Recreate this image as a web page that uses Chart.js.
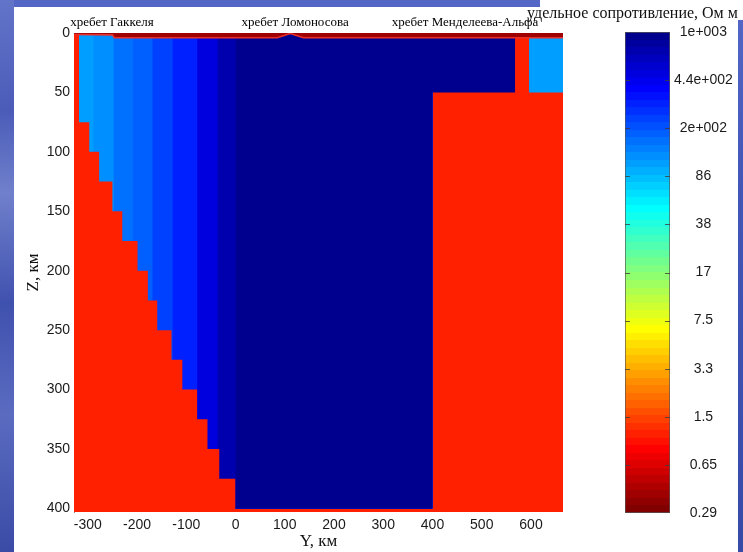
<!DOCTYPE html>
<html>
<head>
<meta charset="utf-8">
<script src="https://cdn.jsdelivr.net/npm/chart.js@4.4.0/dist/chart.umd.min.js"></script>
<style>
  html, body { margin: 0; padding: 0; }
  body { width: 743px; height: 552px; overflow: hidden; position: relative;
         background: linear-gradient(180deg, #5567c6 0%, #4356b8 35%, #384aa8 100%); }
  #leftStrip { position: absolute; left: 0; top: 0; width: 14px; height: 552px;
         background: linear-gradient(180deg, #6274c8 0%, #4a5cb8 20%, #7080cc 35%, #3f51ae 55%, #5a6bc0 75%, #3a4ba6 100%); }
  #panel { position: absolute; left: 14px; top: 7px; width: 724px; height: 545px; background: #fff; }
  #patch { position: absolute; left: 540px; top: 0; width: 203px; height: 20px; background: #fff; }
  #mainBox { position: absolute; left: 0; top: 0; width: 600px; height: 552px; }
  #cbarBox { position: absolute; left: 523px; top: 0; width: 220px; height: 552px; }
  #cbarTitle { position: absolute; left: 527px; top: 5px; font: 16px "Liberation Serif", "Times New Roman", serif;
         color: #111; white-space: nowrap; line-height: 16px; }
</style>
</head>
<body>
<div id="leftStrip"></div>
<div id="panel"></div>
<div id="patch"></div>
<div id="mainBox"><canvas id="main" width="600" height="552"></canvas></div>
<div id="cbarBox"><canvas id="cbar" width="220" height="552"></canvas></div>
<div id="cbarTitle">удельное сопротивление, Ом м</div>
<script>
// ---------------- data ----------------
const rhoMin = 0.29, rhoMax = 1000;           // colour scale limits, Ohm m
const xLimits = [-328, 665];                  // Y, km
const zLimits = [0, 403];                     // Z, km
const xTickValues = [-300, -200, -100, 0, 100, 200, 300, 400, 500, 600];
const zTickValues = [0, 50, 100, 150, 200, 250, 300, 350, 400];
const cbarTickLabels = ['0.29', '0.65', '1.5', '3.3', '7.5', '17', '38', '86', '2e+002', '4.4e+002', '1e+003'];

const mantleRho = 1.1;                        // red background / basement
// columns on the Gakkel side (left edges in km, resistivity); each continues under the next one
const columnEdges = [-318, -289, -248, -209, -169, -128, -78, -37, 0];
const columnRho = [108, 122, 158, 180, 231, 299, 480, 728];
const columnBottom = 400;
// Lomonosov block
const blockX = [0, 400, 568];
const blockZ = [400, 50, 50];
const blockRho = 1000;
// eastern upper box
const eastBoxX = [596, 665];
const eastBoxZ = 50;
const eastBoxRho = 108;
// staircase of conductive basement: x where a step starts, top depth of red
const stepX = [-328, -318, -297, -277, -250, -230, -199, -178, -159, -130, -108, -78, -57, -33, 0];
const stepZ = [0, 75, 100, 125, 150, 175, 200, 225, 250, 275, 300, 325, 350, 375, 375];
// sea water layer bottom
const seaX = [-328, -250, -246, 85, 111, 138, 665];
const seaZ = [1.3, 1.6, 4, 4, 0.4, 4, 4];
const seaRho = 0.38;
// ridge captions
const ridgeNames = ['хребет Гаккеля', 'хребет Ломоносова', 'хребет Менделеева-Альфа'];
const ridgeLabelX = [-251, 121, 466];

// ---------------- colour map (MATLAB jet(64)) ----------------
function jet64() {
  const m = 64, n = 16, u = [];
  for (let k = 1; k <= n; k++) u.push(k / n);
  for (let k = 1; k < n; k++) u.push(1);
  for (let k = n; k >= 1; k--) u.push(k / n);
  const val = j => (j >= 1 && j <= u.length) ? u[j - 1] : 0;
  const out = [];
  for (let i = 1; i <= m; i++) out.push([val(i - 24), val(i - 8), val(i + 8)].map(c => Math.round(c * 255)));
  return out;
}
const JET = jet64(); // index 0 = dark blue (top of colorbar = 1e+003)
function colorFor(rho) {
  const v = (Math.log10(rho) - Math.log10(rhoMin)) / (Math.log10(rhoMax) - Math.log10(rhoMin));
  const idx = Math.max(0, Math.min(63, Math.floor((1 - v) * 64)));
  const c = JET[idx];
  return `rgb(${c[0]},${c[1]},${c[2]})`;
}

// ---------------- main section ----------------
function region(points, rho, fillTo, order, extra) {
  return Object.assign({
    data: points, backgroundColor: colorFor(rho), borderColor: 'rgba(0,0,0,0)', borderWidth: 0,
    pointRadius: 0, pointHoverRadius: 0, fill: { value: fillTo }, stepped: true, tension: 0, order
  }, extra || {});
}
const pts = (xs, zs) => xs.map((x, i) => ({ x, y: Array.isArray(zs) ? zs[i] : zs }));

const datasets = [
  region(pts(xLimits, zLimits[1]), mantleRho, zLimits[0], 30),
  // each column is laid under the following ones (painter's order) so no seams appear
  ...columnRho.map((r, i) => region(pts([columnEdges[i], blockX[1]], columnBottom), r, zLimits[0], 20 - i)),
  region(pts(blockX, blockZ), blockRho, zLimits[0], 9),
  region(pts(eastBoxX, eastBoxZ), eastBoxRho, zLimits[0], 9),
  region(pts(stepX, stepZ), mantleRho, zLimits[1], 5),
  region(pts(seaX, seaZ), seaRho, zLimits[0], 1,
    { stepped: false, borderWidth: 1.6, borderColor: 'rgb(232,48,40)' })
];

const ridgeLabelPlugin = {
  id: 'ridgeLabels',
  afterDraw(chart) {
    const { ctx, chartArea, scales: { x } } = chart;
    ctx.save();
    ctx.font = '13px "Liberation Serif", "Times New Roman", serif';
    ctx.fillStyle = '#000';
    ctx.textAlign = 'center';
    ctx.textBaseline = 'alphabetic';
    ridgeNames.forEach((name, i) => ctx.fillText(name, x.getPixelForValue(ridgeLabelX[i]), chartArea.top - 7));
    ctx.restore();
  }
};

new Chart(document.getElementById('main'), {
  type: 'line',
  data: { datasets },
  plugins: [ridgeLabelPlugin],
  options: {
    responsive: false, animation: false, events: [],
    layout: { padding: { left: 20, top: 33, right: 37, bottom: 0 } },
    plugins: { legend: { display: false }, tooltip: { enabled: false } },
    scales: {
      x: {
        type: 'linear', min: xLimits[0], max: xLimits[1],
        afterBuildTicks: s => { s.ticks = xTickValues.map(v => ({ value: v })); },
        afterFit: s => { s.height = 40; },
        grid: { display: false, drawTicks: false }, border: { display: false },
        ticks: { padding: 5, autoSkip: false, maxRotation: 0, color: '#1a1a1a',
                 font: { family: 'Liberation Sans', size: 14 }, callback: v => String(v) },
        title: { display: true, text: 'Y, км', color: '#111', padding: { top: 0, bottom: 0 },
                 font: { family: 'Liberation Serif', size: 17 } }
      },
      y: {
        type: 'linear', reverse: true, min: zLimits[0], max: zLimits[1],
        afterBuildTicks: s => { s.ticks = zTickValues.map(v => ({ value: v })); },
        afterFit: s => { s.width = 54; },
        grid: { display: false, drawTicks: false }, border: { display: true, color: '#888', width: 1 },
        ticks: { padding: 4, autoSkip: false, color: '#1a1a1a',
                 font: { family: 'Liberation Sans', size: 14 }, callback: v => String(v) },
        title: { display: true, text: 'Z, км', color: '#111', padding: { top: 3, bottom: 0 },
                 font: { family: 'Liberation Serif', size: 17 } }
      }
    }
  }
});

// ---------------- colour bar ----------------
const cbarTickPlugin = {
  id: 'cbarTicks',
  afterDatasetsDraw(chart) {
    const { ctx, chartArea: a, scales: { y } } = chart;
    ctx.save();
    ctx.strokeStyle = 'rgba(60,60,60,0.8)';
    ctx.lineWidth = 1;
    const n = cbarTickLabels.length - 1;
    for (let i = 1; i < n; i++) {
      const py = Math.round(y.getPixelForValue(i / n)) + 0.5;
      ctx.beginPath();
      ctx.moveTo(a.left, py); ctx.lineTo(a.left + 5, py);
      ctx.moveTo(a.right - 5, py); ctx.lineTo(a.right, py);
      ctx.stroke();
    }
    ctx.restore();
  }
};

new Chart(document.getElementById('cbar'), {
  type: 'bar',
  data: {
    labels: [''],
    datasets: [{
      data: [1],
      borderWidth: 1, borderColor: '#555', borderSkipped: false,
      categoryPercentage: 1, barPercentage: 1,
      backgroundColor: c => {
        const chart = c.chart;
        if (!chart.chartArea || !chart.scales.y) return 'rgba(0,0,0,0)';
        const top = chart.scales.y.getPixelForValue(1), bot = chart.scales.y.getPixelForValue(0);
        const g = chart.ctx.createLinearGradient(0, top, 0, bot);
        JET.forEach((col, k) => {
          const s = `rgb(${col[0]},${col[1]},${col[2]})`;
          g.addColorStop(k / 64, s); g.addColorStop((k + 1) / 64, s);
        });
        return g;
      }
    }]
  },
  plugins: [cbarTickPlugin],
  options: {
    responsive: false, animation: false, events: [],
    layout: { padding: { left: 102, top: 32, right: 0, bottom: 39 } },
    plugins: { legend: { display: false }, tooltip: { enabled: false } },
    scales: {
      x: { display: false },
      y: {
        position: 'right', min: 0, max: 1,
        afterBuildTicks: s => { s.ticks = cbarTickLabels.map((_, i) => ({ value: i / (cbarTickLabels.length - 1) })); },
        afterFit: s => { s.width = 73; },
        grid: { display: false, drawTicks: false }, border: { display: false },
        ticks: { padding: 4, crossAlign: 'center', autoSkip: false, color: '#1a1a1a',
                 font: { family: 'Liberation Sans', size: 14 }, callback: (v, i) => cbarTickLabels[i] }
      }
    }
  }
});
</script>
</body>
</html>
